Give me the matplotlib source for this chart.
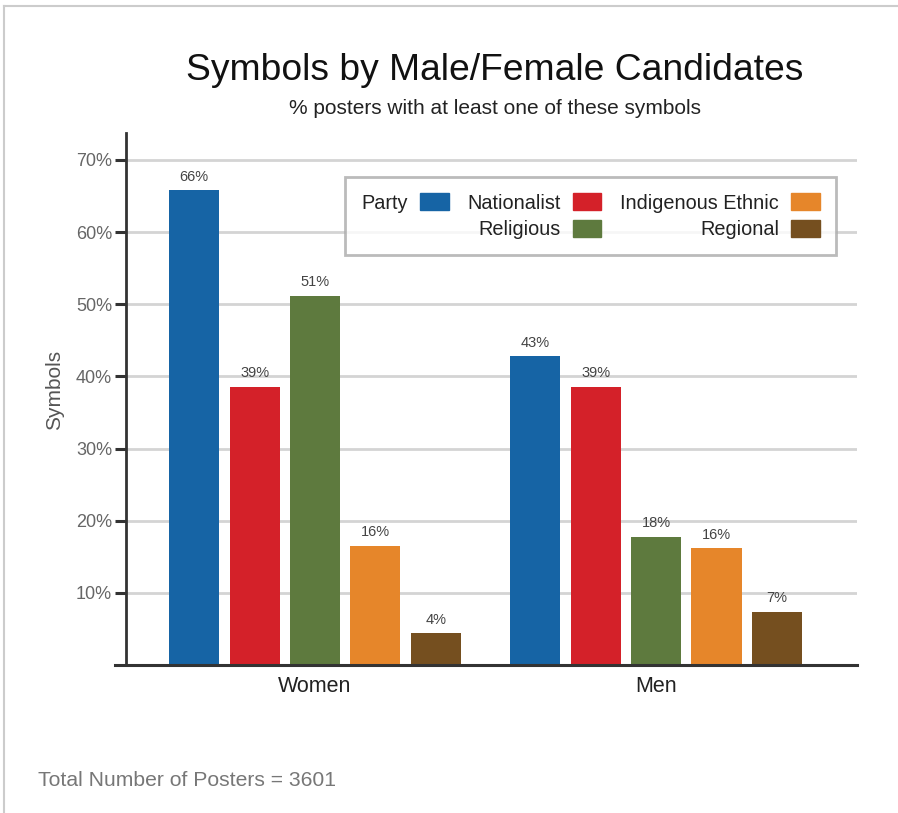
import matplotlib
matplotlib.use("Agg")
import matplotlib.pyplot as plt
from matplotlib.lines import Line2D
from matplotlib.patches import Patch
import numpy as np

plt.rcParams['font.family'] = ['Liberation Sans', 'DejaVu Sans']

# Data
groups = ["Women", "Men"]
parties = ["Nationalist", "Religious", "Indigenous Ethnic", "Regional", "Other"]
party_colors = ["#1664a5", "#d42129", "#5e7a3e", "#e6862a", "#754f1f"]
women_vals = [65.8, 38.6, 51.2, 16.5, 4.4]
men_vals = [42.8, 38.6, 17.8, 16.2, 7.4]
yticks = [10, 20, 30, 40, 50, 60, 70]

W, H = 898, 813
fig = plt.figure(figsize=(W / 100, H / 100), dpi=100)
fig.patch.set_facecolor("white")

# Axes placement in pixels
x0, x1 = 126, 857
y_top, y_bot = 133, 665
ax = fig.add_axes([x0 / W, 1 - y_bot / H, (x1 - x0) / W, (y_bot - y_top) / H])

values = np.array([women_vals, men_vals])
n = values.shape[1]
pitch = 0.177
width = 0.147
xc = np.arange(len(groups))
for i in range(n):
    xs = xc + (i - (n - 1) / 2) * pitch
    bars = ax.bar(xs, values[:, i], width=width, color=party_colors[i], zorder=3)
    for b, v in zip(bars, values[:, i]):
        ax.text(b.get_x() + b.get_width() / 2, v + 0.9, f"{v:.0f}%",
                ha="center", va="bottom", fontsize=10.5, color="#444444", zorder=4)

ax.set_xlim(-0.554, 1.589)
ax.set_ylim(0, 73.74)
ax.set_yticks(yticks)
ax.set_yticklabels([f"{t}%" for t in yticks], fontsize=13, color="#666666")
ax.set_xticks(xc)
ax.set_xticklabels(groups, fontsize=15.5, color="#222222")
ax.tick_params(axis="x", length=0, pad=8)
ax.tick_params(axis="y", length=8, width=2.2, color="#333333", direction="out", pad=2)

ax.grid(axis="y", color="#d4d4d4", linewidth=2.0, zorder=0)
ax.set_axisbelow(True)
for s in ["top", "right", "bottom"]:
    ax.spines[s].set_visible(False)
ax.spines["left"].set_color("#333333")
ax.spines["left"].set_linewidth(2.0)
ax.add_line(Line2D([-0.015, 1.0], [0, 0], transform=ax.transAxes,
                   color="#333333", linewidth=2.2, clip_on=False, zorder=5))

ax.set_ylabel("Symbols", fontsize=15, color="#555555", va="center")
ax.yaxis.set_label_coords((55 - x0) / (x1 - x0), 1 - (390 - y_top) / (y_bot - y_top))

# Legend laid out as a 3-column table with labels before the swatches
handles = [Patch(color=party_colors[0]), Patch(alpha=0),
           Patch(color=party_colors[1]), Patch(color=party_colors[2]),
           Patch(color=party_colors[3]), Patch(color=party_colors[4])]
labels = ["Party", " ", "Nationalist", "Religious", "Indigenous Ethnic", "Regional"]
leg = ax.legend(handles, labels, ncol=3, markerfirst=False, loc="upper left",
                bbox_to_anchor=((345 - x0) / (x1 - x0), 1 - (177 - y_top) / (y_bot - y_top)),
                frameon=True, fancybox=False, edgecolor="#aaaaaa", fontsize=14.3,
                handlelength=1.45, handleheight=0.95, handletextpad=0.6,
                columnspacing=0.95, labelspacing=0.35, borderpad=0.82,
                borderaxespad=0)
leg.get_frame().set_linewidth(2.0)
for t in leg.get_texts():
    t.set_color("#222222")

# Titles and footer
fig.text(495 / W, 1 - 71 / H, "Symbols by Male/Female Candidates", ha="center",
         va="center", fontsize=26.8, color="#111111")
fig.text(495 / W, 1 - 108 / H, "% posters with at least one of these symbols",
         ha="center", va="center", fontsize=15, color="#222222")
fig.text(38 / W, 1 - 780 / H, "Total Number of Posters = 3601", ha="left",
         va="center", fontsize=15.2, color="#777777")

# Page border on top and left edges
fig.add_artist(Line2D([4 / W, 1], [1 - 6 / H, 1 - 6 / H], transform=fig.transFigure,
                      color="#cccccc", linewidth=1.5))
fig.add_artist(Line2D([4 / W, 4 / W], [0, 1 - 6 / H], transform=fig.transFigure,
                      color="#cccccc", linewidth=1.5))

fig.savefig("out.png", dpi=100, facecolor="white")
